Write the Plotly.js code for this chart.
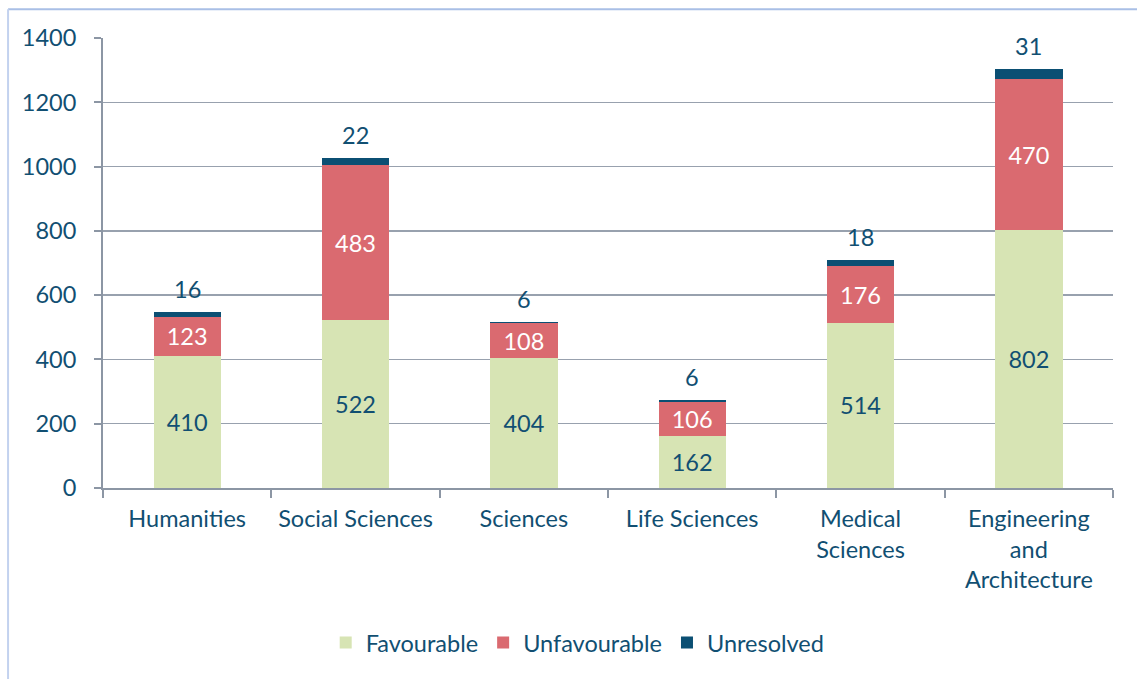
<!DOCTYPE html>
<html>
<head>
<meta charset="utf-8">
<script src="https://cdn.plot.ly/plotly-3.0.1.min.js"></script>
<style>html,body{margin:0;padding:0;background:#fff;}#chart{width:1137px;height:679px;}</style>
</head>
<body>
<div id="chart"></div>
<script>
const categories = ["Humanities", "Social Sciences", "Sciences", "Life Sciences", "Medical<br>Sciences", "Engineering<br>and<br>Architecture"];
const favourable = [410, 522, 404, 162, 514, 802];
const unfavourable = [123, 483, 108, 106, 176, 470];
const unresolved = [16, 22, 6, 6, 18, 31];
const yTicks = [0, 200, 400, 600, 800, 1000, 1200, 1400];

const txtColor = "#114f72";
const fontFamily = "Lato, 'Open Sans', sans-serif";
const fs = 23.5;

const traces = [
  {type: "bar", name: "Favourable", x: categories, y: favourable,
   marker: {color: "#d7e4b4"}, text: favourable.map(String), textposition: "inside",
   insidetextanchor: "middle", constraintext: "none",
   textfont: {color: txtColor, size: fs, family: fontFamily}, hoverinfo: "skip"},
  {type: "bar", name: "Unfavourable", x: categories, y: unfavourable,
   marker: {color: "#da6a70"}, text: unfavourable.map(String), textposition: "inside",
   insidetextanchor: "middle", constraintext: "none",
   textfont: {color: "#ffffff", size: fs, family: fontFamily}, hoverinfo: "skip"},
  {type: "bar", name: "Unresolved", x: categories, y: unresolved,
   marker: {color: "#0b4f73"}, textposition: "none", hoverinfo: "skip"}
];

const annotations = categories.map((c, i) => ({
  x: c, y: favourable[i] + unfavourable[i] + unresolved[i],
  xref: "x", yref: "y", text: String(unresolved[i]), showarrow: false,
  yanchor: "middle", yshift: 23,
  font: {color: txtColor, size: fs, family: fontFamily}
}));

const layout = {
  width: 1137, height: 679,
  margin: {l: 103, r: 24, t: 38, b: 191},
  paper_bgcolor: "#ffffff", plot_bgcolor: "#ffffff",
  font: {family: fontFamily, color: txtColor, size: fs},
  barmode: "stack", bargap: 0.6,
  xaxis: {
    showline: true, linecolor: "#8c96a4", linewidth: 2,
    ticks: "outside", tickson: "boundaries", ticklen: 8, tickcolor: "#8c96a4", tickwidth: 2,
    showgrid: false, tickfont: {size: fs, color: txtColor, family: fontFamily},
    ticklabelstandoff: 9, fixedrange: true
  },
  yaxis: {
    range: [0, 1400], tickvals: yTicks, ticktext: yTicks.map(String),
    showline: true, linecolor: "#8c96a4", linewidth: 2,
    ticks: "outside", ticklen: 7, tickcolor: "#8c96a4", tickwidth: 2,
    showgrid: true, gridcolor: "#98a1ae", gridwidth: 1.5,
    zeroline: false, tickfont: {size: fs, color: txtColor, family: fontFamily},
    ticklabelstandoff: 13, fixedrange: true
  },
  legend: {
    orientation: "h", x: 0.47, xanchor: "center", y: -0.344, yanchor: "middle",
    font: {size: fs, color: txtColor, family: fontFamily},
    traceorder: "normal", itemwidth: 30
  },
  annotations: annotations,
  shapes: [
    {type: "line", xref: "paper", yref: "paper", x0: -0.094, x1: 1.03, y0: 1.064, y1: 1.064,
     line: {color: "#a9bfe6", width: 2}},
    {type: "line", xref: "paper", yref: "paper", x0: -0.094, x1: -0.094, y0: 1.064, y1: -0.43,
     line: {color: "#c3d2ef", width: 2}}
  ]
};

Plotly.newPlot("chart", traces, layout, {displayModeBar: false, staticPlot: true});
</script>
</body>
</html>
